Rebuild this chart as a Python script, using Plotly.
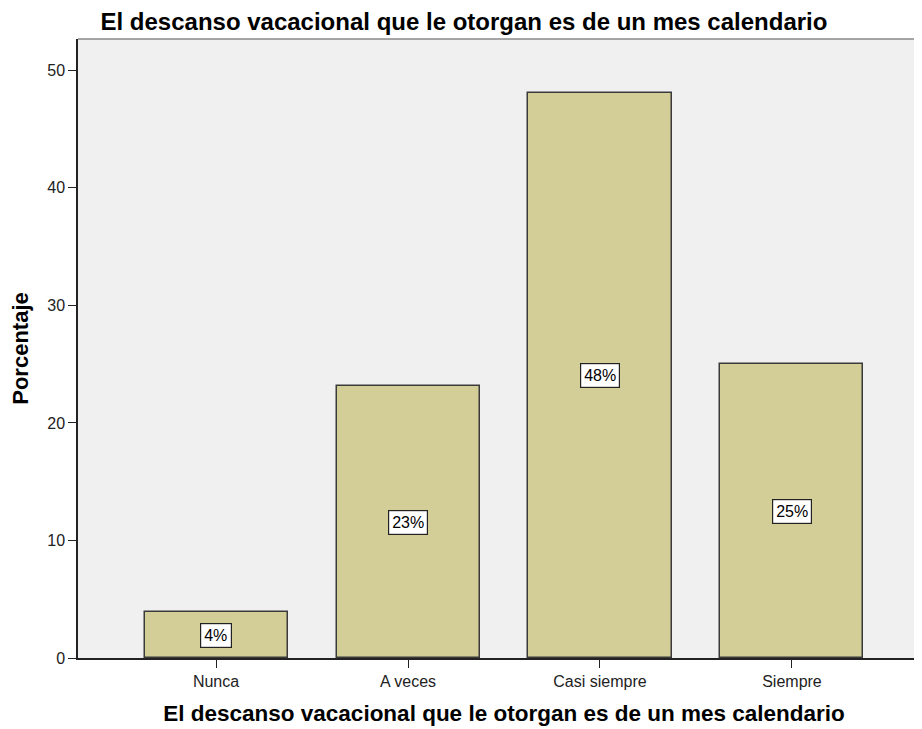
import plotly.graph_objects as go

categorias = ["Nunca", "A veces", "Casi siempre", "Siempre"]
porcentajes = [3.9, 23.1, 48.1, 25.0]
etiquetas = ["4%", "23%", "48%", "25%"]

titulo = "El descanso vacacional que le otorgan es de un mes calendario"
fuente = "Liberation Sans, Arial"

fig = go.Figure()
fig.add_trace(go.Bar(
    x=categorias,
    y=porcentajes,
    width=0.745,
    marker=dict(color="#d3ce97", line=dict(color="#3a3a3a", width=1.5)),
    hoverinfo="x+y",
))

# white boxed value labels at the middle of each bar
for c, v, t in zip(categorias, porcentajes, etiquetas):
    fig.add_annotation(
        x=c, y=v / 2, text=t, showarrow=False,
        font=dict(family=fuente, size=16, color="black"),
        bgcolor="white", bordercolor="#222222", borderwidth=1.2, borderpad=3,
    )

# grey frame line on top of the plot area
fig.add_shape(type="line", xref="paper", yref="paper", x0=0, x1=1, y0=1, y1=1,
              line=dict(color="#8a8a8a", width=1.5))

fig.update_layout(
    width=922, height=729,
    margin=dict(l=70, r=0, t=31, b=79),
    paper_bgcolor="white",
    plot_bgcolor="#f0f0f0",
    showlegend=False,
    bargap=0,
    font=dict(family=fuente, color="black"),
    title=dict(
        text="<b>" + titulo + "</b>",
        x=0.453, xref="paper", xanchor="center",
        y=0.981, yref="container", yanchor="middle",
        font=dict(size=24, color="black"),
    ),
)

fig.update_xaxes(
    range=[-0.719, 3.719],
    showline=True, linecolor="#222222", linewidth=1.5,
    ticks="outside", ticklen=8, tickcolor="#222222", tickwidth=1.3,
    tickfont=dict(size=16, color="#222222"),
    showgrid=False, zeroline=False,
    title=dict(text="<b>" + titulo + "</b>", font=dict(size=22.5, color="black"), standoff=16),
)
fig.update_yaxes(
    range=[0, 52.66],
    tickvals=[0, 10, 20, 30, 40, 50],
    showline=True, linecolor="#222222", linewidth=1.5,
    ticks="outside", ticklen=8, tickcolor="#222222", tickwidth=1.3,
    tickfont=dict(size=16, color="#222222"),
    showgrid=False, zeroline=False,
    title=dict(text="<b>Porcentaje</b>", font=dict(size=22, color="black"), standoff=14),
)

fig.write_html("out.html")
